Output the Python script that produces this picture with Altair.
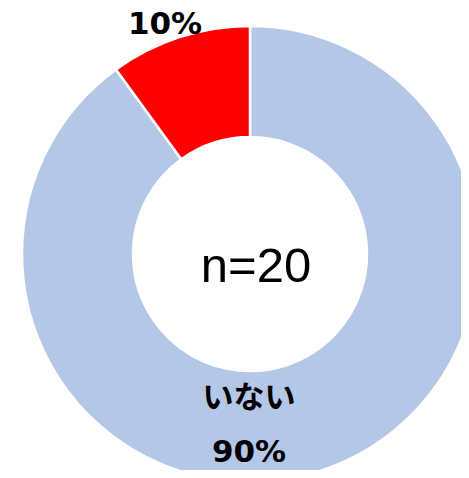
import altair as alt
import pandas as pd

categories = ["いない", "いる"]
values = [90, 10]
order = [0, 1]
colors = ["#B4C7E7", "#FF0000"]
pct_labels = ["90%", "10%"]
center_label = "n=20"

df = pd.DataFrame({"cat": categories, "val": values, "ord": order})

CX, CY = 242, 246

arc = alt.Chart(df).mark_arc(
    outerRadius=228, innerRadius=117, stroke="white", strokeWidth=2.5
).encode(
    theta=alt.Theta("val:Q", stack=True),
    order=alt.Order("ord:Q"),
    color=alt.Color("cat:N", scale=alt.Scale(domain=categories, range=colors), legend=None),
    x=alt.value(CX),
    y=alt.value(CY),
)

def txt(text, x, y, size, font, weight="bold"):
    return alt.Chart(pd.DataFrame({"t": [text]})).mark_text(
        font=font, fontSize=size, fontWeight=weight, color="black",
        align="center", baseline="middle"
    ).encode(text="t:N", x=alt.value(x), y=alt.value(y))

t10 = txt(pct_labels[1], 157, 17, 31, "DejaVu Sans")
tname = txt(categories[0], 241, 391, 31, "Noto Sans CJK JP")
t90 = txt(pct_labels[0], 241, 445, 31, "DejaVu Sans")
tn = txt(center_label, 248, 259, 49, "Liberation Sans", "normal")

chart = alt.layer(arc, t10, tname, t90, tn).properties(
    width=453, height=462, padding=0, autosize=alt.AutoSizeParams(type="none")
).configure_view(stroke=None)

chart.save("out.html", embed_options={"renderer": "svg", "actions": False})
